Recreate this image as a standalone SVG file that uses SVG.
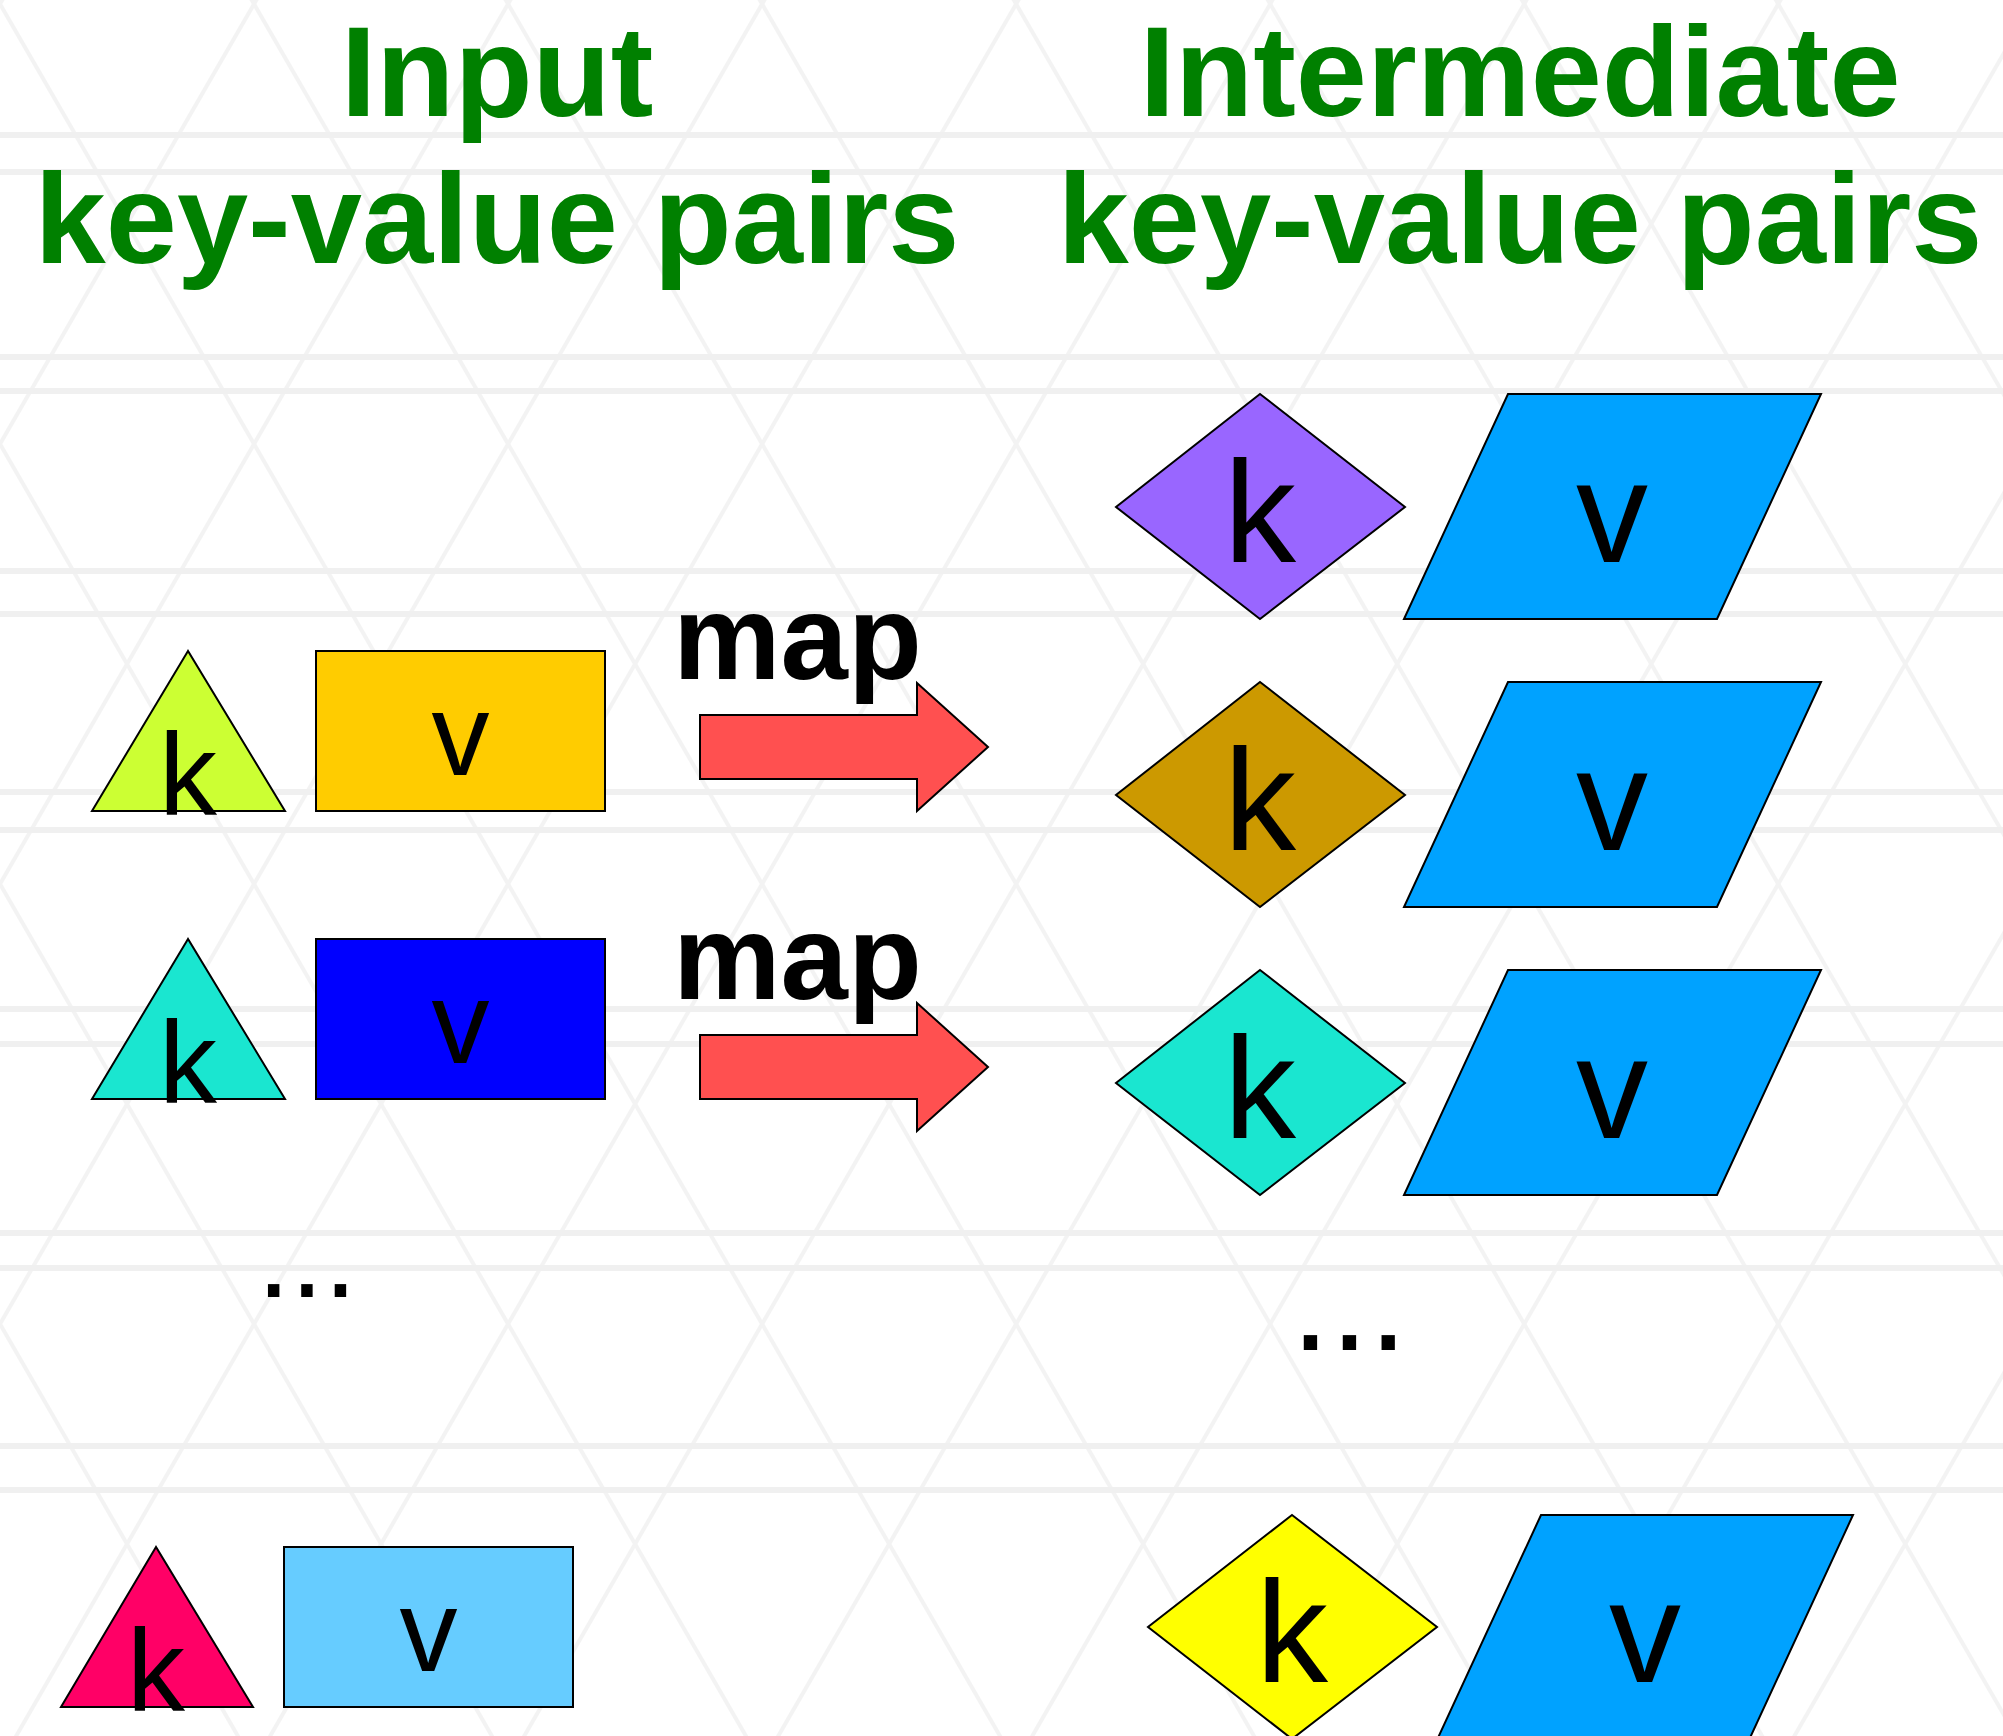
<svg xmlns="http://www.w3.org/2000/svg" width="2003" height="1736" viewBox="0 0 2003 1736">
  <defs>
    <style>
      .title { font-family: "Liberation Sans", Arial, sans-serif; font-weight: bold; font-size: 128px; fill: #008000; text-anchor: middle; }
      .lbl { font-family: "Liberation Sans", Arial, sans-serif; fill: #000; text-anchor: middle; }
      .small { font-size: 116px; }
      .big { font-size: 144px; }
      .map { font-family: "Liberation Sans", Arial, sans-serif; font-weight: bold; font-size: 121px; fill: #000; }
      .dots { font-family: "Liberation Sans", Arial, sans-serif; fill: #000; }
      .shape { stroke: #000; stroke-width: 2; stroke-linejoin: miter; }
      .arrow { fill: #FF5050; stroke: #000; stroke-width: 2; }
      .para { fill: #00A2FF; }
      .band { stroke: #F0F0F0; stroke-width: 6; fill: none; }
    </style>
    <pattern id="hatchA" width="220" height="220" patternUnits="userSpaceOnUse" patternTransform="rotate(60)">
      <line x1="0" y1="2" x2="220" y2="2" stroke="#F3F3F3" stroke-width="4"/>
    </pattern>
    <pattern id="hatchB" width="220" height="220" patternUnits="userSpaceOnUse" patternTransform="rotate(-60)">
      <line x1="0" y1="2" x2="220" y2="2" stroke="#F3F3F3" stroke-width="4"/>
    </pattern>
  </defs>

  <!-- background -->
  <rect width="2003" height="1736" fill="#FFFFFF"/>
  <g id="backdrop">
    <rect width="2003" height="1736" fill="url(#hatchA)"/>
    <rect width="2003" height="1736" fill="url(#hatchB)"/>
    <path class="band" d="M0,135H2003M0,172H2003M0,357H2003M0,391H2003M0,571H2003M0,614H2003M0,792H2003M0,830H2003M0,1009H2003M0,1044H2003M0,1233H2003M0,1268H2003M0,1446H2003M0,1490H2003"/>
  </g>

  <!-- column headings -->
  <g id="heading-input">
    <text class="title" x="497" y="116">Input</text>
    <text class="title" x="497" y="263">key-value pairs</text>
  </g>
  <g id="heading-intermediate">
    <text class="title" x="1520" y="116">Intermediate</text>
    <text class="title" x="1520" y="263">key-value pairs</text>
  </g>

  <!-- input pairs -->
  <g id="input-pair-1">
    <polygon class="shape" fill="#CCFF33" points="188,651 92,811 285,811"/>
    <text class="lbl small" x="188" y="815">k</text>
    <rect class="shape" fill="#FFCC00" x="316" y="651" width="289" height="160"/>
    <text class="lbl small" x="460.5" y="775">v</text>
  </g>
  <g id="input-pair-2">
    <polygon class="shape" fill="#1AE6D0" points="188,939 92,1099 285,1099"/>
    <text class="lbl small" x="188" y="1103">k</text>
    <rect class="shape" fill="#0000FF" x="316" y="939" width="289" height="160"/>
    <text class="lbl small" x="460.5" y="1063">v</text>
  </g>
  <g id="input-ellipsis">
    <text class="dots" x="257" y="1297" font-size="120">...</text>
  </g>
  <g id="input-pair-n">
    <polygon class="shape" fill="#FF0066" points="156,1547 61,1707 253,1707"/>
    <text class="lbl small" x="156" y="1711">k</text>
    <rect class="shape" fill="#66CCFF" x="284" y="1547" width="289" height="160"/>
    <text class="lbl small" x="428.5" y="1671">v</text>
  </g>

  <!-- map operations -->
  <g id="map-1">
    <text class="map" x="673" y="679">map</text>
  </g>
  <g id="map-2">
    <text class="map" x="673" y="999">map</text>
  </g>

  <!-- intermediate pairs -->
  <g id="inter-pair-1">
    <polygon class="shape" fill="#9966FF" points="1260,394 1405,507 1260,619 1116,507"/>
    <text class="lbl big" x="1260" y="562">k</text>
    <polygon class="shape para" points="1508,394 1821,394 1717,619 1404,619"/>
    <text class="lbl big" x="1612" y="562">v</text>
  </g>
  <g id="inter-pair-2">
    <polygon class="shape" fill="#CC9900" points="1260,682 1405,795 1260,907 1116,795"/>
    <text class="lbl big" x="1260" y="850">k</text>
    <polygon class="shape para" points="1508,682 1821,682 1717,907 1404,907"/>
    <text class="lbl big" x="1612" y="850">v</text>
  </g>
  <g id="inter-pair-3">
    <polygon class="shape" fill="#1AE6D0" points="1260,970 1405,1083 1260,1195 1116,1083"/>
    <text class="lbl big" x="1260" y="1138">k</text>
    <polygon class="shape para" points="1508,970 1821,970 1717,1195 1404,1195"/>
    <text class="lbl big" x="1612" y="1138">v</text>
  </g>
  <g id="inter-ellipsis">
    <text class="dots" x="1291" y="1350" font-size="140">...</text>
  </g>
  <g id="inter-pair-n">
    <polygon class="shape" fill="#FFFF00" points="1292,1515 1437,1627 1292,1739 1148,1627"/>
    <text class="lbl big" x="1292" y="1682">k</text>
    <polygon class="shape para" points="1541,1515 1853,1515 1749,1740 1437,1740"/>
    <text class="lbl big" x="1645" y="1682">v</text>
  </g>

  <!-- connectors -->
  <g id="connectors">
    <path class="arrow" d="M700,715H917V683L988,747L917,811V779H700Z"/>
    <path class="arrow" d="M700,1035H917V1003L988,1067L917,1131V1099H700Z"/>
  </g>
</svg>
